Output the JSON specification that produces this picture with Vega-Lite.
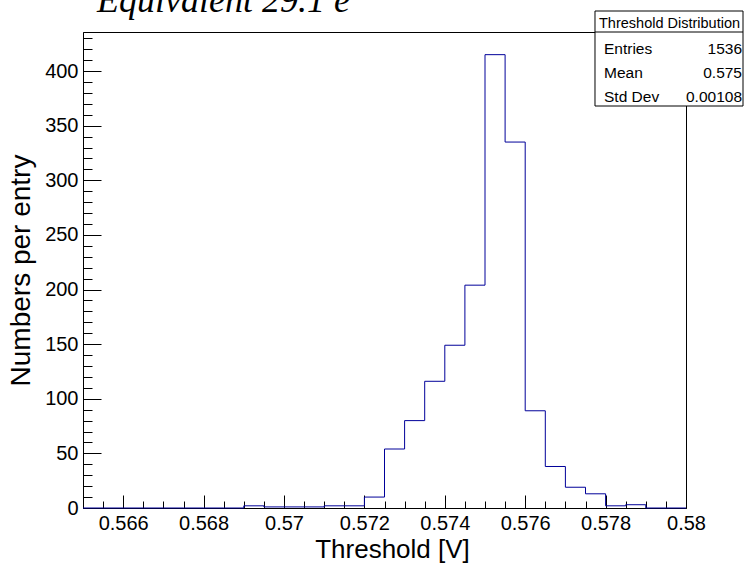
{
  "$schema": "https://vega.github.io/schema/vega-lite/v6.json",
  "width": 603,
  "height": 476,
  "autosize": "none",
  "padding": {"left": 83, "top": 32, "right": 58, "bottom": 55},
  "background": "white",
  "config": {
    "view": {"stroke": "black", "strokeWidth": 1},
    "font": "Liberation Sans",
    "axis": {
      "grid": false,
      "domainColor": "black",
      "tickColor": "black",
      "labelColor": "black",
      "titleColor": "black",
      "labelFont": "Liberation Sans",
      "titleFont": "Liberation Sans",
      "titleFontWeight": "normal",
      "labelFlush": false,
      "labelOverlap": false
    },
    "text": {"font": "Liberation Sans", "color": "black", "baseline": "alphabetic"}
  },
  "data": {"values": [{}]},
  "datasets": {
    "hist": [
      {"edge": 0.565, "count": 0},
      {"edge": 0.5655, "count": 0},
      {"edge": 0.566, "count": 0},
      {"edge": 0.5665, "count": 0},
      {"edge": 0.567, "count": 0},
      {"edge": 0.5675, "count": 0},
      {"edge": 0.568, "count": 0},
      {"edge": 0.5685, "count": 0},
      {"edge": 0.569, "count": 2},
      {"edge": 0.5695, "count": 1},
      {"edge": 0.57, "count": 1},
      {"edge": 0.5705, "count": 1},
      {"edge": 0.571, "count": 2},
      {"edge": 0.5715, "count": 2},
      {"edge": 0.572, "count": 10},
      {"edge": 0.5725, "count": 54},
      {"edge": 0.573, "count": 80},
      {"edge": 0.5735, "count": 116},
      {"edge": 0.574, "count": 149},
      {"edge": 0.5745, "count": 204},
      {"edge": 0.575, "count": 415},
      {"edge": 0.5755, "count": 335},
      {"edge": 0.576, "count": 89},
      {"edge": 0.5765, "count": 38},
      {"edge": 0.577, "count": 19},
      {"edge": 0.5775, "count": 13},
      {"edge": 0.578, "count": 2},
      {"edge": 0.5785, "count": 3},
      {"edge": 0.579, "count": 0},
      {"edge": 0.5795, "count": 0},
      {"edge": 0.58, "count": 0}
    ]
  },
  "layer": [
    {
      "data": {"name": "hist"},
      "mark": {"type": "line", "interpolate": "step-after", "color": "#000099", "strokeWidth": 1},
      "encoding": {
        "x": {
          "field": "edge",
          "type": "quantitative",
          "scale": {"domain": [0.565, 0.58], "nice": false, "zero": false},
          "axis": {
            "orient": "bottom",
            "values": [0.566, 0.568, 0.57, 0.572, 0.574, 0.576, 0.578, 0.58],
            "format": "~g",
            "ticks": false,
            "domain": true,
            "labelFontSize": 20,
            "labelPadding": 5,
            "title": "Threshold [V]",
            "titleFontSize": 26,
            "titlePadding": 3,
            "titleX": 309
          }
        },
        "y": {
          "field": "count",
          "type": "quantitative",
          "scale": {"domain": [0, 435.75], "nice": false},
          "axis": {
            "orient": "left",
            "values": [0, 50, 100, 150, 200, 250, 300, 350, 400],
            "ticks": false,
            "domain": true,
            "labelFontSize": 20,
            "labelPadding": 5,
            "title": "Numbers per entry",
            "titleFontSize": 28,
            "titlePadding": 9
          }
        }
      }
    },
    {
      "mark": {"type": "rect", "fill": "white", "stroke": "black", "strokeWidth": 1},
      "encoding": {
        "x": {
          "datum": 0.577736,
          "type": "quantitative",
          "axis": {
            "orient": "bottom",
            "values": [0.566, 0.568, 0.57, 0.572, 0.574, 0.576, 0.578, 0.58],
            "labels": false,
            "domain": false,
            "tickSize": -13,
            "title": null
          }
        },
        "x2": {"datum": 0.581418},
        "y": {
          "datum": 454.97,
          "type": "quantitative",
          "axis": {
            "orient": "left",
            "values": [0, 50, 100, 150, 200, 250, 300, 350, 400],
            "labels": false,
            "domain": false,
            "tickSize": -18,
            "title": null
          }
        },
        "y2": {"datum": 368}
      }
    },
    {
      "mark": {"type": "rule", "color": "black", "strokeWidth": 1},
      "encoding": {
        "x": {
          "datum": 0.577736,
          "type": "quantitative",
          "axis": {
            "orient": "bottom",
            "values": [0.565, 0.5655, 0.566, 0.5665, 0.567, 0.5675, 0.568, 0.5685, 0.569, 0.5695, 0.57, 0.5705, 0.571, 0.5715, 0.572, 0.5725, 0.573, 0.5735, 0.574, 0.5745, 0.575, 0.5755, 0.576, 0.5765, 0.577, 0.5775, 0.578, 0.5785, 0.579, 0.5795],
            "labels": false,
            "domain": false,
            "tickSize": -7,
            "title": null
          }
        },
        "x2": {"datum": 0.581418},
        "y": {
          "datum": 435.75,
          "type": "quantitative",
          "axis": {
            "orient": "left",
            "values": [10, 20, 30, 40, 60, 70, 80, 90, 110, 120, 130, 140, 160, 170, 180, 190, 210, 220, 230, 240, 260, 270, 280, 290, 310, 320, 330, 340, 360, 370, 380, 390, 410, 420, 430],
            "labels": false,
            "domain": false,
            "tickSize": -9,
            "title": null
          }
        }
      }
    },
    {
      "mark": {"type": "text", "align": "left", "font": "Liberation Serif", "fontStyle": "italic", "fontSize": 36},
      "encoding": {
        "x": {"datum": 0.565348, "type": "quantitative", "axis": null},
        "y": {"datum": 454.06, "type": "quantitative", "axis": null},
        "text": {"value": "Equivalent 29.1 e"}
      }
    },
    {
      "mark": {"type": "text", "align": "left", "fontSize": 14.5},
      "encoding": {
        "x": {"datum": 0.577836, "type": "quantitative", "axis": null},
        "y": {"datum": 439.1, "type": "quantitative", "axis": null},
        "text": {"value": "Threshold Distribution"}
      }
    },
    {
      "mark": {"type": "text", "align": "left", "fontSize": 15.5},
      "encoding": {
        "x": {"datum": 0.57796, "type": "quantitative", "axis": null},
        "y": {"datum": 415.6, "type": "quantitative", "axis": null},
        "text": {"value": "Entries"}
      }
    },
    {
      "mark": {"type": "text", "align": "right", "fontSize": 15.5},
      "encoding": {
        "x": {"datum": 0.581393, "type": "quantitative", "axis": null},
        "y": {"datum": 415.6, "type": "quantitative", "axis": null},
        "text": {"value": "1536"}
      }
    },
    {
      "mark": {"type": "text", "align": "left", "fontSize": 15.5},
      "encoding": {
        "x": {"datum": 0.57796, "type": "quantitative", "axis": null},
        "y": {"datum": 393.2, "type": "quantitative", "axis": null},
        "text": {"value": "Mean"}
      }
    },
    {
      "mark": {"type": "text", "align": "right", "fontSize": 15.5},
      "encoding": {
        "x": {"datum": 0.581393, "type": "quantitative", "axis": null},
        "y": {"datum": 393.2, "type": "quantitative", "axis": null},
        "text": {"value": "0.575"}
      }
    },
    {
      "mark": {"type": "text", "align": "left", "fontSize": 15.5},
      "encoding": {
        "x": {"datum": 0.57796, "type": "quantitative", "axis": null},
        "y": {"datum": 371.9, "type": "quantitative", "axis": null},
        "text": {"value": "Std Dev"}
      }
    },
    {
      "mark": {"type": "text", "align": "right", "fontSize": 15.5},
      "encoding": {
        "x": {"datum": 0.581393, "type": "quantitative", "axis": null},
        "y": {"datum": 371.9, "type": "quantitative", "axis": null},
        "text": {"value": "0.00108"}
      }
    }
  ],
  "resolve": {"axis": {"x": "independent", "y": "independent"}}
}
